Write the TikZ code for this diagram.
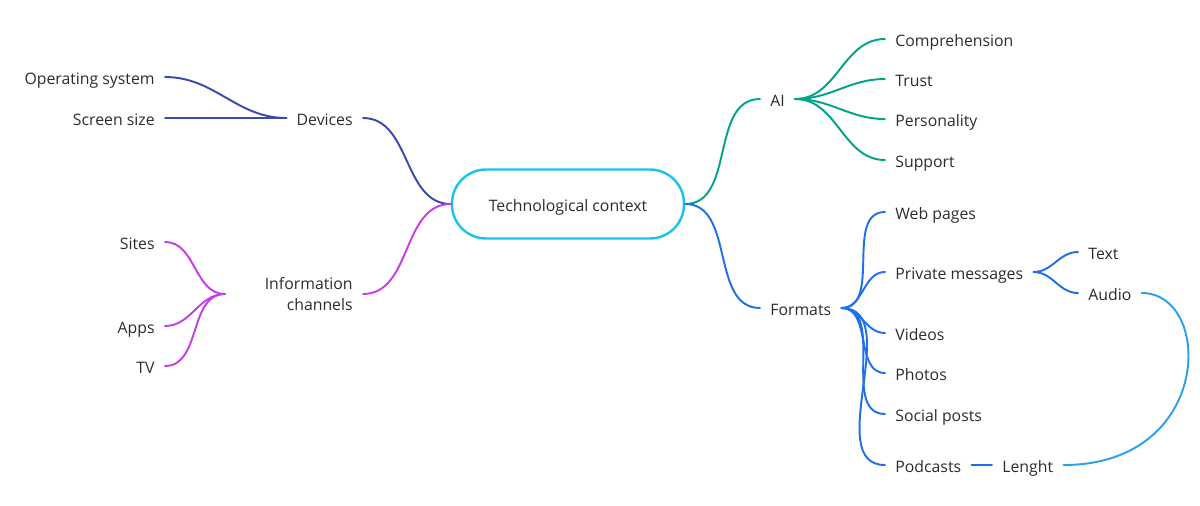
\documentclass[tikz,border=0pt]{standalone}
\usepackage{fontspec}
\setmainfont{Open Sans}
\usetikzlibrary{positioning}
\definecolor{txtgray}{HTML}{2B2B2B}
\definecolor{devblue}{HTML}{3A49AE}
\definecolor{chanpurple}{HTML}{C83CEB}
\definecolor{aigreen}{HTML}{00A28C}
\definecolor{fmtblue}{HTML}{1E6FE8}
\definecolor{linkblue}{HTML}{2AA0EA}
\definecolor{corecyan}{HTML}{1CC3EF}
\tikzset{leaf/.style={text=txtgray, inner xsep=5.7pt, inner ysep=0pt, text height=0.95em, text depth=0.1em,
    font=\fontsize{9}{11.5}\selectfont}}
\tikzset{branch/.style={line width=1.1pt, line cap=round}}

\begin{document}
\begin{tikzpicture}[x=0.02cm, y=-0.02cm]
    \useasboundingbox (0, 0) rectangle (1200, 505);
    \node[leaf, draw=corecyan, line width=1.4pt, rounded corners=0.68cm,
          minimum width=4.64cm, minimum height=1.38cm] (core) at (568, 204) {Technological context};
    % left side
    \node[leaf, anchor=east] (dev) at (363, 118) {Devices};
    \node[leaf, anchor=east] (os) at (165, 77) {Operating system};
    \node[leaf, anchor=east] (screen) at (165, 118) {Screen size};
    \node[leaf, anchor=east, align=right, text height=, text depth=] (chan) at (363, 294) {Information\\channels};
    \coordinate (chanjoin) at (225, 294);
    \node[leaf, anchor=east] (sites) at (165, 242) {Sites};
    \node[leaf, anchor=east] (apps) at (165, 326) {Apps};
    \node[leaf, anchor=east] (tv) at (165, 366) {TV};
    \draw[branch, devblue] (dev.east) to[out=0, in=180] (core.west);
    \draw[branch, devblue] (os.east) to[out=0, in=180] (dev.west);
    \draw[branch, devblue] (screen.east) to (dev.west);
    \draw[branch, chanpurple] (chan.east) to[out=0, in=180] (core.west);
    \draw[branch, chanpurple] (sites.east) to[out=0, in=180] (chanjoin);
    \draw[branch, chanpurple] (apps.east) to[out=0, in=180] (chanjoin);
    \draw[branch, chanpurple] (tv.east) to[out=0, in=180] (chanjoin);
    % AI
    \node[leaf, anchor=west] (ai) at (760, 99) {AI};
    \node[leaf, anchor=west] (compr) at (885, 39) {Comprehension};
    \node[leaf, anchor=west] (trust) at (885, 79) {Trust};
    \node[leaf, anchor=west] (pers) at (885, 119) {Personality};
    \node[leaf, anchor=west] (supp) at (885, 160) {Support};
    \draw[branch, aigreen] (core.east) to[out=0, in=180] (ai.west);
    \foreach \n in {compr, trust, pers, supp}
        \draw[branch, aigreen] (ai.east) to[out=0, in=180] (\n.west);
    % formats
    \node[leaf, anchor=west] (fmt) at (760, 308) {Formats};
    \node[leaf, anchor=west] (web) at (885, 212) {Web pages};
    \node[leaf, anchor=west] (priv) at (885, 272) {Private messages};
    \node[leaf, anchor=west] (vid) at (885, 333) {Videos};
    \node[leaf, anchor=west] (photo) at (885, 373) {Photos};
    \node[leaf, anchor=west] (social) at (885, 414) {Social posts};
    \node[leaf, anchor=west] (pod) at (885, 465) {Podcasts};
    \node[leaf, anchor=west] (txt) at (1078, 252) {Text};
    \node[leaf, anchor=west] (audio) at (1078, 293) {Audio};
    \node[leaf, anchor=west] (len) at (992, 465) {Lenght};
    \draw[branch, fmtblue] (core.east) to[out=0, in=180] (fmt.west);
    \foreach \n in {web, priv, vid, photo, social, pod}
        \draw[branch, fmtblue] (fmt.east) to[out=0, in=180] (\n.west);
    \draw[branch, fmtblue] (priv.east) to[out=0, in=180] (txt.west);
    \draw[branch, fmtblue] (priv.east) to[out=0, in=180] (audio.west);
    \draw[branch, fmtblue] (pod.east) -- (len.west);
    \draw[branch, linkblue] (len.east) .. controls +(150, 0) and +(72, 0) .. (audio.east);
\end{tikzpicture}
\end{document}
